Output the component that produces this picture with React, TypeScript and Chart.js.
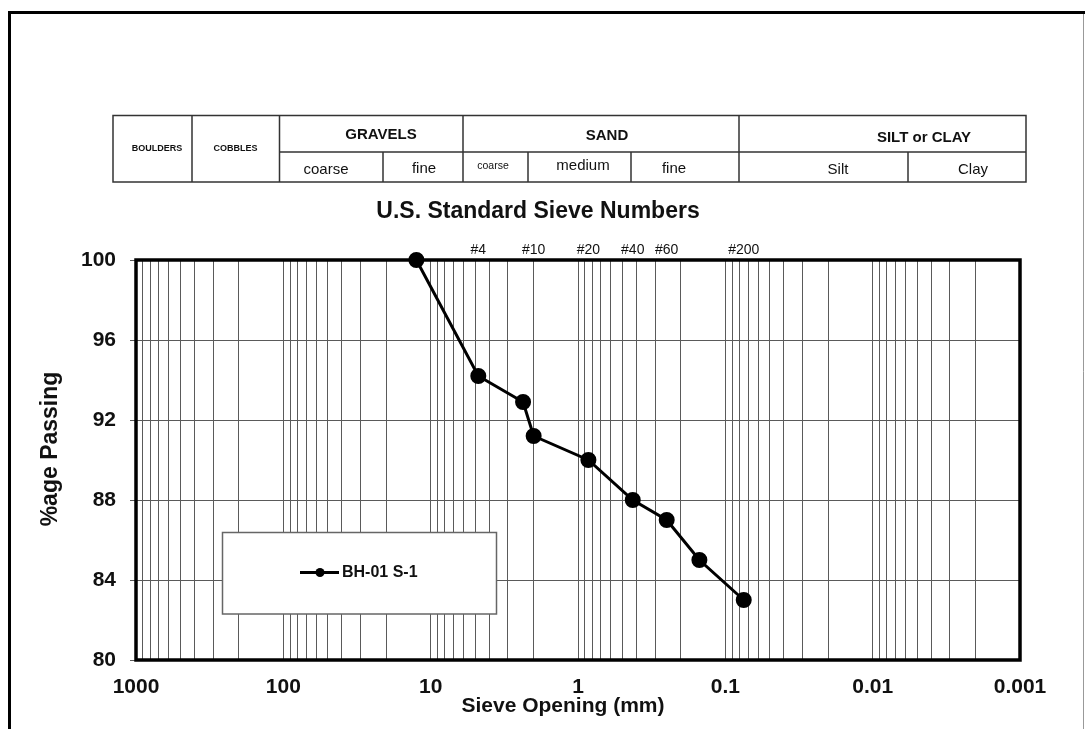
import React, { useEffect, useRef } from 'react';
import { Chart, registerables } from 'chart.js';

Chart.register(...registerables);

// ---- data ----
const sieveOpeningsMm = [12.5, 4.75, 2.36, 2.0, 0.85, 0.425, 0.25, 0.15, 0.075];
const percentPassing = [100, 94.2, 92.9, 91.2, 90.0, 88.0, 87.0, 85.0, 83.0];
const seriesLabel = 'BH-01 S-1';

const decadeTicks = [1000, 100, 10, 1, 0.1, 0.01, 0.001];
const decadeLabels = ['1000', '100', '10', '1', '0.1', '0.01', '0.001'];
const minorMultipliers = [1, 2, 3, 4, 5, 6, 7, 8, 9];
const yTicks = [80, 84, 88, 92, 96, 100];

const sieveNumberLabels = ['#4', '#10', '#20', '#40', '#60', '#200'];
const sieveNumberSizes = [4.75, 2.0, 0.85, 0.425, 0.25, 0.075];

const chartTitle = 'U.S. Standard Sieve Numbers';
const xTitle = 'Sieve Opening (mm)';
const yTitle = '%age Passing';

// classification table texts
const tableTopLabels = ['BOULDERS', 'COBBLES', 'GRAVELS', 'SAND', 'SILT or CLAY'];
const tableBottomLabels = ['coarse', 'fine', 'coarse', 'medium', 'fine', 'Silt', 'Clay'];

const FONT = '"Liberation Sans", Arial, Helvetica, sans-serif';
const TXT = '#111';
const GRID = '#5a5a5a';

const gridValues: number[] = [];
decadeTicks.slice(1).forEach((d) => {
  minorMultipliers.forEach((m) => gridValues.push(d * m));
});
gridValues.push(1000);

function decadeLabel(v: number): string {
  for (let i = 0; i < decadeTicks.length; i++) {
    if (Math.abs(v - decadeTicks[i]) / decadeTicks[i] < 1e-6) return decadeLabels[i];
  }
  return '';
}

const decorPlugin = {
  id: 'decor',
  beforeDraw(chart: any) {
    const ctx = chart.ctx as CanvasRenderingContext2D;
    ctx.save();
    ctx.fillStyle = '#fff';
    ctx.fillRect(0, 0, chart.width, chart.height);

    // page frame
    ctx.strokeStyle = '#000';
    ctx.lineWidth = 3;
    ctx.beginPath();
    ctx.moveTo(9.5, 729);
    ctx.lineTo(9.5, 12.5);
    ctx.lineTo(1085, 12.5);
    ctx.stroke();
    ctx.strokeStyle = '#999';
    ctx.lineWidth = 1;
    ctx.beginPath();
    ctx.moveTo(1083.5, 14);
    ctx.lineTo(1083.5, 729);
    ctx.stroke();

    // classification table
    const L = 113, R = 1026, T = 115.5, M = 152, B = 182;
    ctx.strokeStyle = '#333';
    ctx.lineWidth = 1.5;
    ctx.strokeRect(L, T, R - L, B - T);
    ctx.beginPath();
    [192, 279.5, 463, 739].forEach((x) => {
      ctx.moveTo(x, T);
      ctx.lineTo(x, B);
    });
    ctx.moveTo(279.5, M);
    ctx.lineTo(R, M);
    [383, 528, 631, 908].forEach((x) => {
      ctx.moveTo(x, M);
      ctx.lineTo(x, B);
    });
    ctx.stroke();

    ctx.fillStyle = TXT;
    ctx.textAlign = 'center';
    ctx.textBaseline = 'middle';
    ctx.font = `bold 9px ${FONT}`;
    ctx.fillText(tableTopLabels[0], 157, 148.5);
    ctx.fillText(tableTopLabels[1], 235.5, 148.5);
    ctx.font = `bold 15px ${FONT}`;
    ctx.fillText(tableTopLabels[2], 381, 135);
    ctx.fillText(tableTopLabels[3], 607, 136);
    ctx.fillText(tableTopLabels[4], 924, 138);
    ctx.font = `15px ${FONT}`;
    ctx.fillText(tableBottomLabels[0], 326, 170);
    ctx.fillText(tableBottomLabels[1], 424, 169);
    ctx.font = `10.5px ${FONT}`;
    ctx.fillText(tableBottomLabels[2], 493, 166);
    ctx.font = `15px ${FONT}`;
    ctx.fillText(tableBottomLabels[3], 583, 166);
    ctx.fillText(tableBottomLabels[4], 674, 169);
    ctx.fillText(tableBottomLabels[5], 838, 170);
    ctx.fillText(tableBottomLabels[6], 973, 170);

    // title
    ctx.font = `bold 23px ${FONT}`;
    ctx.fillText(chartTitle, 538, 212);
    ctx.restore();
  },
  beforeDatasetsDraw(chart: any) {
    const ctx = chart.ctx as CanvasRenderingContext2D;
    const a = chart.chartArea;
    ctx.save();
    ctx.strokeStyle = '#000';
    ctx.lineWidth = 3.5;
    ctx.strokeRect(a.left, a.top, a.right - a.left, a.bottom - a.top);
    ctx.restore();
  },
  afterDraw(chart: any) {
    const ctx = chart.ctx as CanvasRenderingContext2D;
    const xs = chart.scales.x;
    const a = chart.chartArea;
    ctx.save();
    ctx.fillStyle = TXT;
    ctx.textAlign = 'center';
    ctx.textBaseline = 'middle';
    // sieve numbers
    ctx.font = `14px ${FONT}`;
    sieveNumberSizes.forEach((s, i) => {
      ctx.fillText(sieveNumberLabels[i], xs.getPixelForValue(s), 250);
    });
    // x title
    ctx.font = `bold 21px ${FONT}`;
    ctx.fillText(xTitle, 563, 706);
    // y title
    ctx.save();
    ctx.translate(51, (a.top + a.bottom) / 2 - 11);
    ctx.rotate(-Math.PI / 2);
    ctx.font = `bold 23px ${FONT}`;
    ctx.fillText(yTitle, 0, 0);
    ctx.restore();

    // legend
    const ds = chart.data.datasets[0];
    ctx.fillStyle = '#fff';
    ctx.fillRect(222.5, 532.5, 274, 81.5);
    ctx.strokeStyle = '#666';
    ctx.lineWidth = 1.5;
    ctx.strokeRect(222.5, 532.5, 274, 81.5);
    ctx.strokeStyle = ds.borderColor;
    ctx.lineWidth = 3;
    ctx.beginPath();
    ctx.moveTo(300, 572.5);
    ctx.lineTo(339, 572.5);
    ctx.stroke();
    ctx.fillStyle = ds.pointBackgroundColor;
    ctx.beginPath();
    ctx.arc(320, 572.5, 4.5, 0, Math.PI * 2);
    ctx.fill();
    ctx.fillStyle = TXT;
    ctx.textAlign = 'left';
    ctx.font = `bold 16px ${FONT}`;
    ctx.fillText(ds.label, 342, 573);
    ctx.restore();
  },
};

export default function App() {
  const ref = useRef<HTMLCanvasElement | null>(null);

  useEffect(() => {
    if (!ref.current) return;
    const chart = new Chart(ref.current, {
      type: 'line',
      data: {
        datasets: [
          {
            label: seriesLabel,
            data: sieveOpeningsMm.map((x, i) => ({ x, y: percentPassing[i] })),
            borderColor: '#000',
            backgroundColor: '#000',
            pointBackgroundColor: '#000',
            pointBorderColor: '#000',
            borderWidth: 3,
            pointRadius: 6.5,
            pointHoverRadius: 6.5,
            tension: 0,
            clip: false as any,
          },
        ],
      },
      options: {
        responsive: false,
        animation: false,
        devicePixelRatio: 1,
        layout: { padding: { left: 36, top: 260, right: 65, bottom: 24 } },
        plugins: {
          legend: { display: false },
          title: { display: false },
          tooltip: { enabled: false },
        },
        scales: {
          x: {
            type: 'logarithmic',
            position: 'bottom',
            min: 0.001,
            max: 1000,
            reverse: true,
            afterBuildTicks: (scale: any) => {
              scale.ticks = gridValues.map((v) => ({ value: v }));
            },
            afterFit: (scale: any) => {
              scale.height = 45;
            },
            ticks: {
              autoSkip: false,
              maxRotation: 0,
              minRotation: 0,
              padding: 15,
              color: TXT,
              font: { family: FONT, size: 21, weight: 'bold' },
              callback: (v: any) => decadeLabel(Number(v)),
            },
            grid: { color: GRID, lineWidth: 1, drawTicks: false },
            border: { display: false },
          },
          y: {
            type: 'linear',
            min: 80,
            max: 100,
            afterBuildTicks: (scale: any) => {
              scale.ticks = yTicks.map((v) => ({ value: v }));
            },
            afterFit: (scale: any) => {
              scale.width = 100;
            },
            ticks: {
              padding: 14,
              color: TXT,
              font: { family: FONT, size: 21, weight: 'bold' },
            },
            grid: { color: GRID, lineWidth: 1, drawTicks: true, tickLength: 6 },
            border: { display: false },
          },
        },
      },
      plugins: [decorPlugin],
    });
    return () => chart.destroy();
  }, []);

  return (
    <div style={{ position: 'absolute', left: 0, top: 0, width: 1085, height: 729 }}>
      <canvas ref={ref} width={1085} height={729} style={{ width: 1085, height: 729, display: 'block' }} />
    </div>
  );
}
